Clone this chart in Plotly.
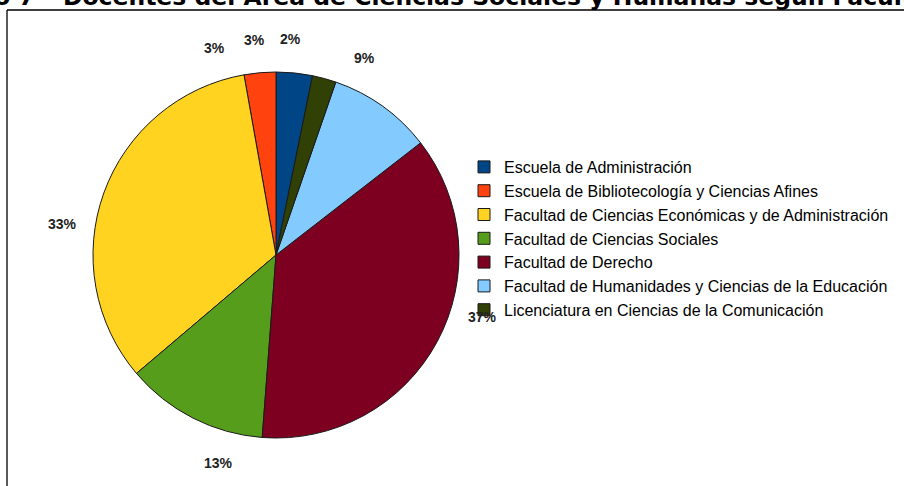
import numpy as np
import plotly.graph_objects as go

categories = [
    "Escuela de Administración",
    "Escuela de Bibliotecología y Ciencias Afines",
    "Facultad de Ciencias Económicas y de Administración",
    "Facultad de Ciencias Sociales",
    "Facultad de Derecho",
    "Facultad de Humanidades y Ciencias de la Educación",
    "Licenciatura en Ciencias de la Comunicación",
]
values = [3.2, 2.8, 33.4, 12.6, 36.7, 9.2, 2.1]
colors = ["#004586", "#ff420e", "#ffd320", "#579d1c", "#7e0021", "#83caff", "#314004"]
title_text = "Gráfico 7 – Docentes del Área de Ciencias Sociales y Humanas según Facultad"

W, H = 904, 486
cx, cy, r = 276, 255, 183  # pie centre / radius in pixels (top-left origin)

fig = go.Figure()
fig.add_trace(go.Pie(
    labels=categories, values=values, sort=False, direction="counterclockwise",
    rotation=0, marker=dict(colors=colors, line=dict(color="#1a1a1a", width=1)),
    textinfo="none", hoverinfo="label+percent",
    domain=dict(x=[(cx - r) / W, (cx + r) / W], y=[(H - cy - r) / H, (H - cy + r) / H]),
))

# percentage labels placed outside the slices, computed from the data
vals = np.array(values, dtype=float)
frac = vals / vals.sum()
mids = np.cumsum(frac) - frac / 2
D = r + 33
for f, m in zip(frac, mids):
    a = 2 * np.pi * m
    px = cx - D * np.sin(a)
    py = cy - D * np.cos(a)
    fig.add_annotation(
        x=px / W, y=1 - py / H, xref="paper", yref="paper",
        text=f"<b>{round(f * 100):.0f}%</b>", showarrow=False,
        xanchor="center", yanchor="middle",
        font=dict(family="Liberation Sans", size=14, color="#222222"),
    )

# cut-off title at the very top
fig.add_annotation(
    x=-86 / W, y=1 + 3 / H, xref="paper", yref="paper", text=f"<b>{title_text}</b>",
    showarrow=False, xanchor="left", yanchor="middle",
    font=dict(family="DejaVu Sans", size=23.5, color="#000000"),
)

# frame lines
fig.add_shape(type="line", xref="paper", yref="paper", x0=7 / W, x1=7 / W, y0=0, y1=1 - 10 / H,
              line=dict(color="#000000", width=1.3))
fig.add_shape(type="line", xref="paper", yref="paper", x0=7 / W, x1=1, y0=1 - 10 / H, y1=1 - 10 / H,
              line=dict(color="#000000", width=1.3))

fig.update_layout(
    width=W, height=H, margin=dict(l=0, r=0, t=0, b=0),
    paper_bgcolor="white", plot_bgcolor="white",
    showlegend=True,
    legend=dict(x=464 / W, y=1 - 150 / H, xanchor="left", yanchor="top",
                font=dict(family="Liberation Sans", size=16, color="#000000"),
                bgcolor="rgba(0,0,0,0)", itemclick=False),
)

fig.write_html("out.html", config={"displayModeBar": False},
               post_script="document.body.style.margin='0';document.body.style.overflow='hidden';")
